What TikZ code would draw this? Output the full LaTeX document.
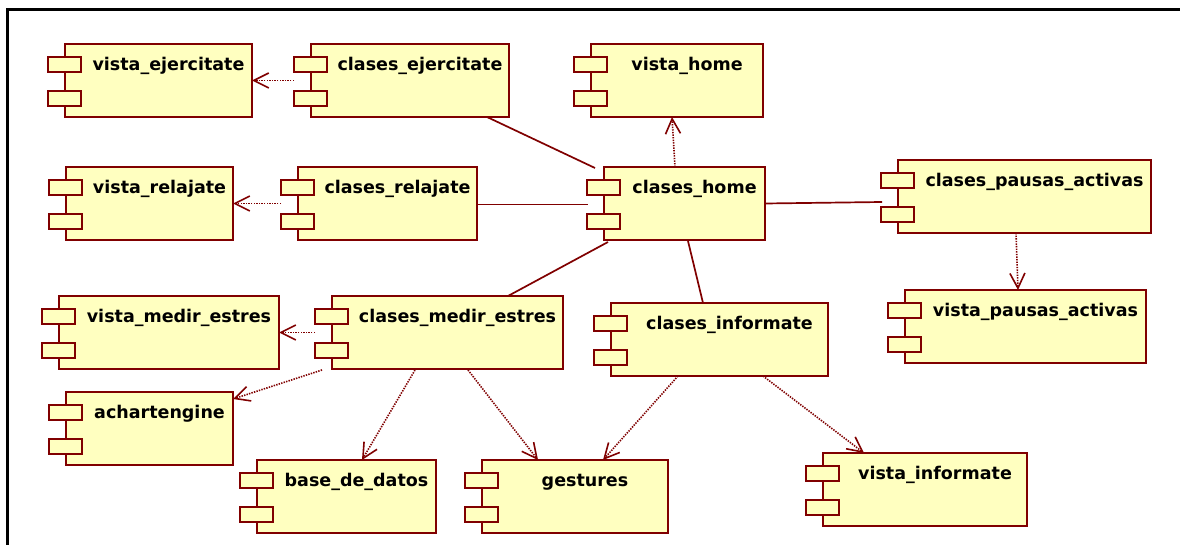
\documentclass[tikz,border=0pt]{standalone}
\usepackage{fontspec}
\setmainfont{DejaVu Sans}
\usetikzlibrary{arrows.meta}
\definecolor{umlred}{RGB}{128,0,0}
\definecolor{umlfill}{RGB}{255,255,192}

\tikzset{
  body/.style={draw=umlred, fill=umlfill, line width=1.7pt, inner sep=0pt, outer sep=0pt,
    anchor=north west, minimum height=73pt},
  tab/.style={draw=umlred, fill=umlfill, line width=1.7pt, inner sep=0pt, outer sep=0pt,
    anchor=north west, minimum width=33pt, minimum height=15pt},
  title/.style={font=\bfseries\fontsize{17.5}{20}\selectfont, anchor=base, inner sep=0pt},
  dep/.style={draw=umlred, line width=1.6pt, dash pattern=on 1.4pt off 1.2pt,
    -{Straight Barb[length=15pt,width=15pt,line width=1.6pt]}},
  assoc/.style={draw=umlred, line width=1.7pt},
}

% component: name, body left, top, body right, title
\newcommand\umlcomp[5]{%
  \node[body, minimum width={#4-#2}] (#1) at (#2,#3) {};
  \node[tab] (#1-a) at (#2-17,#3+13) {};
  \node[tab] (#1-b) at (#2-17,#3+47) {};
  \node[title] (#1-t) at ({(#2+16+#4)/2+2},#3+26.5) {#5};
}

\begin{document}
\begin{tikzpicture}[x=1pt, y=-1pt]
\useasboundingbox (0,0) rectangle (1180,545);
\fill[white] (0,0) rectangle (1180,545);

% outer frame
\draw[line width=2.4pt] (7.5,560) -- (7.5,9.5) -- (1200,9.5);

% components
\umlcomp{ve}{65}{44}{252}{vista\_ejercitate}
\umlcomp{ce}{311}{44}{509}{clases\_ejercitate}
\umlcomp{vh}{591}{44}{763}{vista\_home}
\umlcomp{vr}{66}{167}{233}{vista\_relajate}
\umlcomp{cr}{298}{167}{477}{clases\_relajate}
\umlcomp{ch}{604}{167}{765}{clases\_home}
\umlcomp{cpa}{898}{160}{1151}{clases\_pausas\_activas}
\umlcomp{vpa}{905}{290}{1146}{vista\_pausas\_activas}
\umlcomp{vme}{59}{296}{279}{vista\_medir\_estres}
\umlcomp{cme}{332}{296}{563}{clases\_medir\_estres}
\umlcomp{ci}{611}{303}{828}{clases\_informate}
\umlcomp{ach}{66}{392}{233}{achartengine}
\umlcomp{bdd}{257}{460}{436}{base\_de\_datos}
\umlcomp{ges}{482}{460}{668}{gestures}
\umlcomp{vi}{823}{453}{1027}{vista\_informate}

% associations
\draw[assoc] ([xshift=77pt]ce.south) -- ([xshift=-9pt,yshift=-1pt]ch.north west);
\draw[assoc] ([yshift=-1pt]cr.east) -- ([xshift=-16pt,yshift=-1pt]ch.west);
\draw[assoc] (ch.east) -- ([xshift=-16pt,yshift=-5.5pt]cpa.west);
\draw[assoc] ([xshift=4pt,yshift=-2pt]ch.south west) -- ([xshift=60.5pt]cme.north);
\draw[assoc] ([xshift=3.5pt,yshift=-1pt]ch.south) -- ([xshift=-16.5pt]ci.north);

% dependencies
\draw[dep] ([xshift=-17pt]ce.west) -- (ve.east);
\draw[dep] ([xshift=-17pt]cr.west) -- (vr.east);
\draw[dep] ([xshift=-9.5pt]ch.north) -- ([xshift=-5pt]vh.south);
\draw[dep] ([xshift=-8.5pt]cpa.south) -- ([xshift=-7.5pt]vpa.north);
\draw[dep] ([xshift=-17pt]cme.west) -- (vme.east);
\draw[dep] ([xshift=-10pt,yshift=-1pt]cme.south west) -- ([yshift=-7pt]ach.north east);
\draw[dep] ([xshift=-32.5pt,yshift=-1pt]cme.south) -- ([xshift=15.5pt]bdd.north);
\draw[dep] ([xshift=20.5pt,yshift=-1pt]cme.south) -- ([xshift=-37pt]ges.north);
\draw[dep] ([xshift=-41.5pt]ci.south) -- ([xshift=28pt]ges.north);
\draw[dep] ([xshift=43.5pt]ci.south) -- ([xshift=-61pt]vi.north);
\end{tikzpicture}
\end{document}
